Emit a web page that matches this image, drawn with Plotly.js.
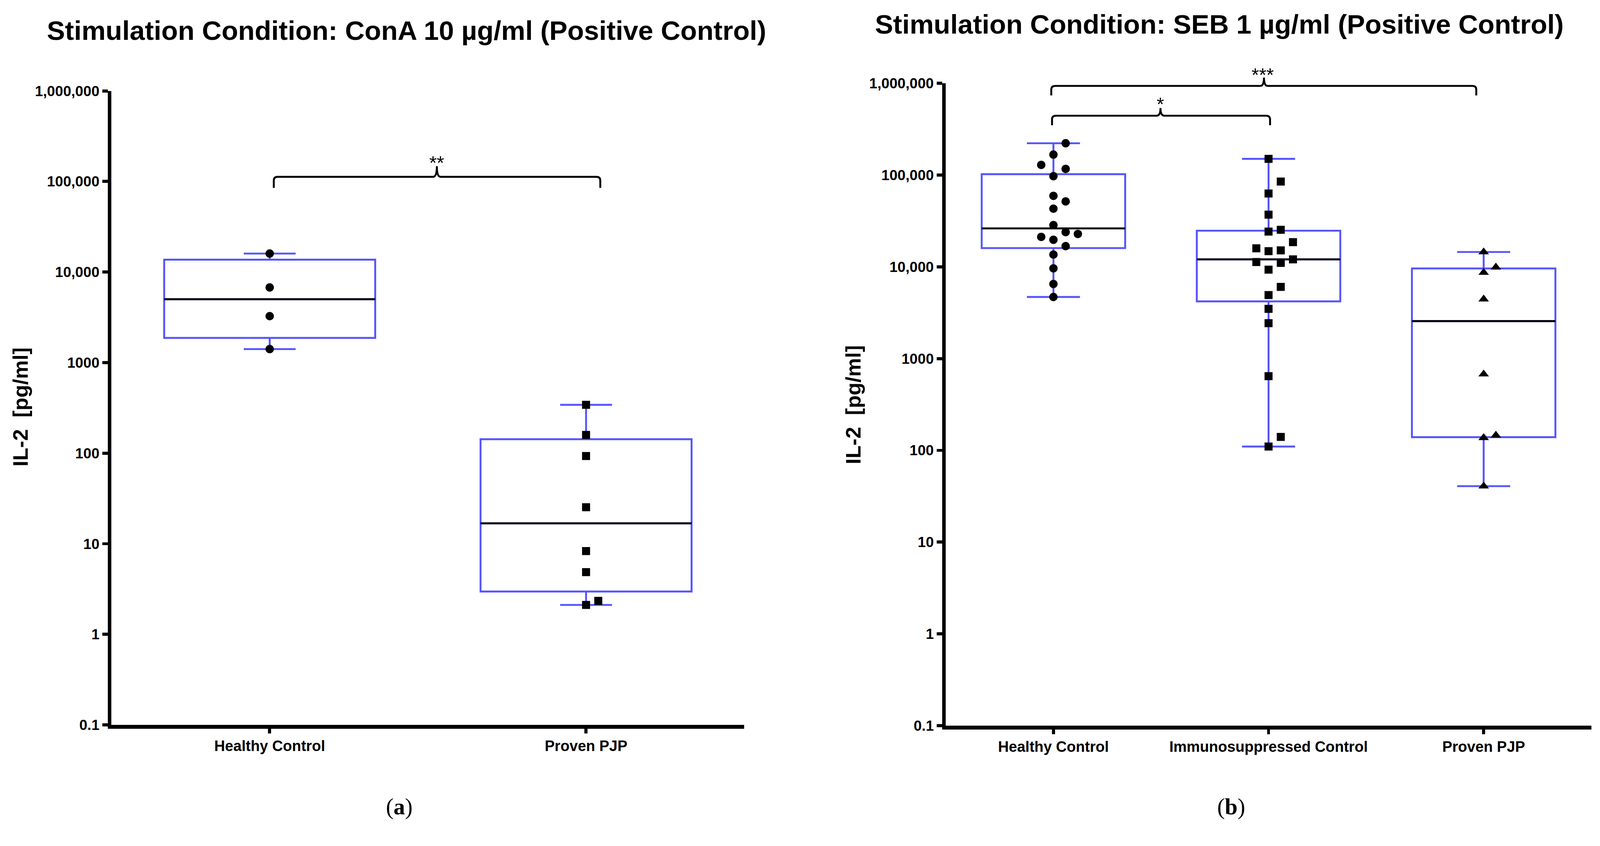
<!DOCTYPE html>
<html>
<head>
<meta charset="utf-8">
<script src="https://cdn.plot.ly/plotly-3.0.1.min.js"></script>
<style>html,body{margin:0;padding:0;background:#fff;overflow:hidden;}</style>
</head>
<body>
<div id="chart"></div>
<script>
// ---------------- data ----------------
const conaCategories = ["Healthy Control", "Proven PJP"];
const sebCategories = ["Healthy Control", "Immunosuppressed Control", "Proven PJP"];

const conaHealthy = [16000, 6760, 3260, 1410];
const conaPJP = [342, 159, 93, 25.3, 8.3, 4.86, 2.34, 2.11];

const sebHealthy = [222000, 167000, 129000, 116700, 97200, 59300, 51600, 43000, 28500,
                    23900, 22800, 21200, 19700, 16800, 13600, 9620, 6500, 4690];
const sebImmuno = [150000, 84900, 62900, 37000, 25300, 24200, 18560, 15900, 15100, 14800,
                   12050, 11030, 11270, 9310, 6040, 4920, 3480, 2430, 643, 140, 110];
const sebPJP = [14500, 9900, 8660, 4440, 677, 146, 137, 40.7];

const tickValues = [0.1, 1, 10, 100, 1000, 10000, 100000, 1000000];
const tickLabels = ["0.1", "1", "10", "100", "1000", "10,000", "100,000", "1,000,000"];

const titleConA = "Stimulation Condition: ConA 10 µg/ml (Positive Control)";
const titleSEB = "Stimulation Condition: SEB 1 µg/ml (Positive Control)";
const yTitle = "IL-2\u00a0\u00a0[pg/ml]";
const sigConA = "**";
const sigSEB = ["*", "***"];

// ---------------- layout geometry (reference pixels) ----------------
const W0 = 4190, H0 = 2165;
let S = 1;
if (window.innerWidth > 100 && window.innerHeight > 100) {
  S = Math.min(window.innerWidth / W0, window.innerHeight / H0, 1);
}
const W = Math.floor(W0 * S), H = Math.floor(H0 * S);
const k = v => v * S;   // scale a pixel size
const chartDiv = document.getElementById("chart");
chartDiv.style.width = W + "px";
chartDiv.style.height = H + "px";

const BLUE = "#5555ff";
const SANS = "Liberation Sans, Arial, sans-serif";
const panels = {
  L: {x0: 292, x1: 1949, yTop: 238, yBot: 1898, xr: [-0.5, 1.5], xa: "x", ya: "y"},
  R: {x0: 2477, x1: 4167, yTop: 218, yBot: 1900, xr: [-0.5, 2.5], xa: "x2", ya: "y2"}
};
const BOXW = 0.667;

// quartiles, GraphPad style ((n+1)p interpolation)
function quant(vals, p) {
  const s = vals.slice().sort((a, b) => a - b);
  const n = s.length;
  const pos = (n + 1) * p;
  if (pos <= 1) return s[0];
  if (pos >= n) return s[n - 1];
  const lo = Math.floor(pos), f = pos - lo;
  return s[lo - 1] + f * (s[lo] - s[lo - 1]);
}

// simple column-scatter placement (pixel based, reference pixels)
function swarm(vals, panel, center) {
  const pxPerUnit = (panel.x1 - panel.x0) / (panel.xr[1] - panel.xr[0]);
  const dec = (panel.yBot - panel.yTop) / 7;
  const Y = vals.map(v => panel.yTop + (6 - Math.log10(v)) * dec);
  const idx = vals.map((v, i) => i).sort((a, b) => vals[a] - vals[b]);
  const placed = [];
  const slotOf = new Array(vals.length);
  const tries = [0, 1, -1, 2, -2, 3, -3, 4, -4];
  const SEP = 32;
  idx.forEach(i => {
    for (const s of tries) {
      const clash = placed.some(p => p.s === s && Math.abs(p.y - Y[i]) < SEP);
      if (!clash) { placed.push({s: s, y: Y[i]}); slotOf[i] = s; break; }
    }
  });
  return slotOf.map(s => center + s * SEP / pxPerUnit);
}

const traces = [];
function addGroup(vals, panel, pos, symbol, size, whiskerw) {
  const q1 = quant(vals, 0.25), med = quant(vals, 0.5), q3 = quant(vals, 0.75);
  traces.push({
    type: "box", x: [pos], q1: [q1], median: [med], q3: [q3],
    lowerfence: [Math.min(...vals)], upperfence: [Math.max(...vals)],
    width: BOXW, whiskerwidth: whiskerw, boxpoints: false,
    line: {color: BLUE, width: k(5)}, fillcolor: "rgba(0,0,0,0)",
    xaxis: panel.xa, yaxis: panel.ya, hoverinfo: "skip", showlegend: false
  });
  traces.push({
    type: "scatter", mode: "lines", x: [pos - BOXW / 2, pos + BOXW / 2], y: [med, med],
    line: {color: "black", width: k(5)}, xaxis: panel.xa, yaxis: panel.ya,
    hoverinfo: "skip", showlegend: false
  });
  traces.push({
    type: "scatter", mode: "markers", x: swarm(vals, panel, pos), y: vals,
    marker: {symbol: symbol, size: k(size), color: "black", line: {width: 0}},
    xaxis: panel.xa, yaxis: panel.ya, hoverinfo: "y", showlegend: false
  });
}

addGroup(conaHealthy, panels.L, 0, "circle", 22, 0.246);
addGroup(conaPJP, panels.L, 1, "square", 21, 0.246);
addGroup(sebHealthy, panels.R, 0, "circle", 22, 0.37);
addGroup(sebImmuno, panels.R, 1, "square", 21, 0.37);
addGroup(sebPJP, panels.R, 2, "triangle-up", 24, 0.37);

// ---------------- axes ----------------
function xAxis(panel, cats) {
  return {
    domain: [panel.x0 / W0, panel.x1 / W0], range: panel.xr,
    tickmode: "array", tickvals: cats.map((c, i) => i), ticktext: cats,
    showline: true, linecolor: "black", linewidth: k(10),
    ticks: "outside", ticklen: k(12), tickwidth: k(8), tickcolor: "black",
    showgrid: false, zeroline: false, fixedrange: true,
    tickfont: {family: SANS, size: k(39), color: "black", weight: "bold"},
    anchor: panel.ya
  };
}
function yAxis(panel) {
  return {
    domain: [1 - panel.yBot / H0, 1 - panel.yTop / H0], type: "log", range: [-1, 6],
    tickmode: "array", tickvals: tickValues, ticktext: tickLabels,
    showline: true, linecolor: "black", linewidth: k(10),
    ticks: "outside", ticklen: k(14), tickwidth: k(8), tickcolor: "black",
    showgrid: false, zeroline: false, fixedrange: true,
    tickfont: {family: SANS, size: k(38), color: "black", weight: "bold"},
    anchor: panel.xa
  };
}

// ---------------- brackets ----------------
const px = X => (X / W0).toFixed(5);
const py = Y => (1 - Y / H0).toFixed(5);
function brace(xl, xr, xm, yt, yb, tip) {
  const r = 10;
  const path = `M ${px(xl)},${py(yb)} L ${px(xl)},${py(yt + r)} Q ${px(xl)},${py(yt)} ${px(xl + r)},${py(yt)} ` +
    `L ${px(xm - r)},${py(yt)} Q ${px(xm)},${py(yt)} ${px(xm)},${py(yt - tip)} ` +
    `Q ${px(xm)},${py(yt)} ${px(xm + r)},${py(yt)} L ${px(xr - r)},${py(yt)} ` +
    `Q ${px(xr)},${py(yt)} ${px(xr)},${py(yt + r)} L ${px(xr)},${py(yb)}`;
  return {type: "path", xref: "paper", yref: "paper", path: path,
          line: {color: "black", width: k(5)}, fillcolor: "rgba(0,0,0,0)"};
}
const shapes = [
  brace(717, 1572, 1144, 463, 492, 28),
  brace(2753, 3866, 3310, 225, 250, 22),
  brace(2755, 3326, 3039, 303, 328, 20)
];

function ann(text, X, Y, font, extra) {
  return Object.assign({text: text, x: X / W0, y: 1 - Y / H0, xref: "paper", yref: "paper",
    showarrow: false, xanchor: "center", yanchor: "middle", font: font}, extra || {});
}
const titleFont = {family: SANS, size: k(71), color: "black", weight: "bold"};
const yTitleFont = {family: SANS, size: k(55), color: "black", weight: "bold"};
const starFont = {family: SANS, size: k(50), color: "black"};
const serifFont = {family: "Liberation Serif, Times New Roman, serif", size: k(60), color: "black"};

const annotations = [
  ann(titleConA, 1065, 80, titleFont),
  ann(titleSEB, 3193, 63, titleFont),
  ann(yTitle, 53, 1065, yTitleFont, {textangle: -90}),
  ann(yTitle, 2234, 1059, yTitleFont, {textangle: -90}),
  ann(sigConA, 1144, 426, starFont),
  ann(sigSEB[1], 3307, 195, starFont),
  ann(sigSEB[0], 3039, 272, starFont),
  ann("(<b>a</b>)", 1045, 2112, serifFont),
  ann("(<b>b</b>)", 3224, 2112, serifFont)
];

const layout = {
  width: W, height: H, margin: {l: 0, r: 0, t: 0, b: 0, pad: 0},
  paper_bgcolor: "white", plot_bgcolor: "white", showlegend: false,
  boxmode: "overlay",
  xaxis: xAxis(panels.L, conaCategories), yaxis: yAxis(panels.L),
  xaxis2: xAxis(panels.R, sebCategories), yaxis2: yAxis(panels.R),
  shapes: shapes, annotations: annotations
};

Plotly.newPlot("chart", traces, layout, {staticPlot: true, displayModeBar: false});
</script>
</body>
</html>
